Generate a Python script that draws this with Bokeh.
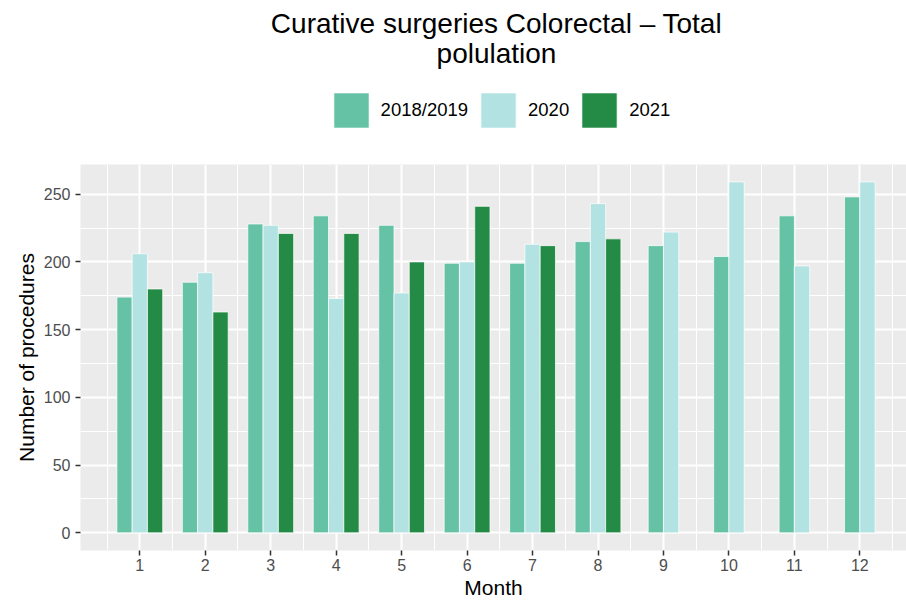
from bokeh.plotting import figure
from bokeh.layouts import column
from bokeh.models import ColumnDataSource, Range1d, FixedTicker, Legend, LegendItem, Label
from bokeh.embed import file_html
from bokeh.resources import INLINE

# ---- data ----
months = [1, 2, 3, 4, 5, 6, 7, 8, 9, 10, 11, 12]
series_names = ["2018/2019", "2020", "2021"]
v_2018_2019 = [174, 185, 228, 234, 227, 199, 199, 215, 212, 204, 234, 248]
v_2020 = [206, 192, 227, 173, 177, 200, 213, 243, 222, 259, 197, 259]
v_2021 = [180, 163, 221, 221, 200, 241, 212, 217, None, None, None, None]
colors = ["#66C2A5", "#B2E2E2", "#238B45"]
y_ticks = [0, 50, 100, 150, 200, 250]
y_minor = [25, 75, 125, 175, 225, 275]
title_lines = ["Curative surgeries Colorectal \u2013 Total", "polulation"]
x_title = "Month"
y_title = "Number of procedures"

FONT = "Liberation Sans"
W = 906
TOP_H = 164
LEFT = 80

series = [v_2018_2019, v_2020, v_2021]
dodge_width = 0.7
bar_w = dodge_width / 3

# ---------- header figure: title + legend (frame aligned with main frame) ----------
head = figure(width=W, height=TOP_H, x_range=Range1d(-2, -1), y_range=Range1d(0, 1),
              x_axis_location=None, y_axis_location=None, title_location=None,
              min_border=0, min_border_left=LEFT, output_backend="svg", toolbar_location=None,
              background_fill_color="white", border_fill_color="white",
              outline_line_color=None)
head.grid.visible = False

# ---------- main figure ----------
p = figure(width=W, height=603 - TOP_H, title_location=None,
           x_range=Range1d(0.094, 12.713), y_range=Range1d(-13.04, 271.9),
           min_border_left=LEFT, min_border_right=0, min_border_top=0, min_border_bottom=53,
           output_backend="svg", toolbar_location=None,
           background_fill_color="#EBEBEB", border_fill_color="white",
           outline_line_color=None)

legend_renderers = []
for si, vals in enumerate(series):
    xs, tops = [], []
    for mi, m in enumerate(months):
        if vals[mi] is None:
            continue
        present = [k for k in range(len(series)) if series[k][mi] is not None]
        n = len(present)
        idx = present.index(si)
        xs.append(m + (idx - (n - 1) / 2) * bar_w)
        tops.append(vals[mi])
    src = ColumnDataSource(dict(x=xs, top=tops))
    style = dict(fill_color=colors[si], line_color="white", line_width=1, line_alpha=0.7)
    p.vbar(x="x", top="top", bottom=0, width=bar_w, source=src, **style)
    # same source in the header (outside its visible x-range): only feeds the legend swatch
    lr = head.vbar(x="x", top="top", bottom=0, width=bar_w, source=src, **style)
    legend_renderers.append(lr)

# axes
p.xaxis.ticker = FixedTicker(ticks=months, minor_ticks=[m - 0.5 for m in months] + [months[-1] + 0.5])
p.yaxis.ticker = FixedTicker(ticks=y_ticks, minor_ticks=y_minor)
for ax in (p.xaxis, p.yaxis):
    ax.axis_line_color = None
    ax.major_tick_line_color = "#333333"
    ax.major_tick_line_width = 1.5
    ax.major_tick_out = 5
    ax.major_tick_in = 0
    ax.minor_tick_out = 0
    ax.minor_tick_in = 0
    ax.major_label_text_font = FONT
    ax.major_label_text_font_size = "16px"
    ax.major_label_text_color = "#4D4D4D"
    ax.axis_label_text_font = FONT
    ax.axis_label_text_font_size = "21px"
    ax.axis_label_text_font_style = "normal"
    ax.axis_label_text_color = "black"
p.xaxis.major_label_standoff = 3
p.yaxis.major_label_standoff = 5
p.xaxis.axis_label = x_title
p.yaxis.axis_label = y_title
p.xaxis.axis_label_standoff = 2
p.yaxis.axis_label_standoff = 3

for g in (p.xgrid, p.ygrid):
    g.grid_line_color = "white"
    g.grid_line_width = 2
    g.minor_grid_line_color = "white"
    g.minor_grid_line_width = 1

# legend
items = [LegendItem(label=series_names[i], renderers=[legend_renderers[i]]) for i in range(3)]
legend = Legend(items=items, orientation="horizontal", location=(328.6 - LEFT, 31.6),
                glyph_width=44, glyph_height=44, label_standoff=8, spacing=8,
                padding=0, margin=0, border_line_color=None, background_fill_alpha=0,
                label_text_font=FONT, label_text_font_size="18.5px", label_text_color="black")
head.add_layout(legend, "center")

# title lines
for txt, yy in zip(title_lines, [TOP_H - 33.3 + 10.5, TOP_H - 63.3 + 10.5]):
    head.add_layout(Label(x=496 - LEFT, y=yy, x_units="screen", y_units="screen", text=txt,
                          text_align="center", text_baseline="alphabetic",
                          text_font=FONT, text_font_size="28px", text_color="black"))

layout = column(head, p, spacing=0)
open("out.html", "w").write(file_html(layout, INLINE))
